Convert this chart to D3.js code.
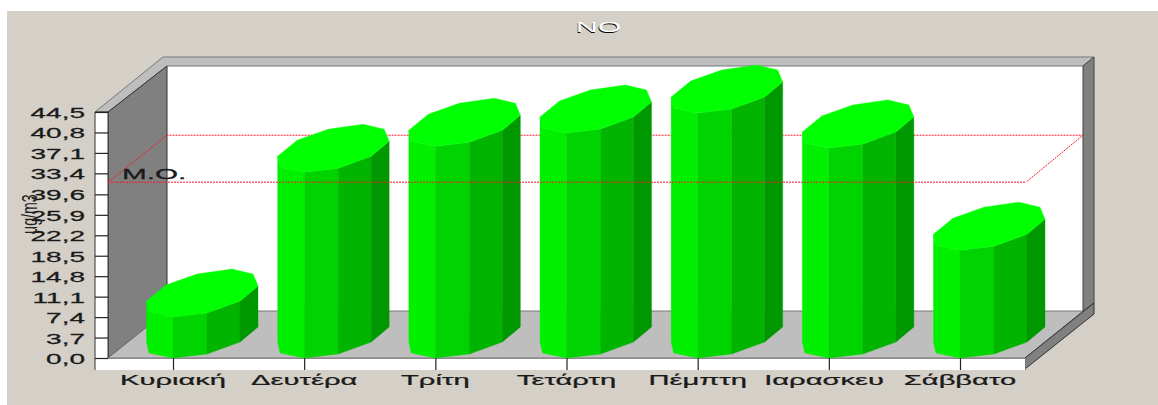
<!DOCTYPE html>
<html><head><meta charset="utf-8">
<script src="https://cdn.jsdelivr.net/npm/d3@7"></script>
<style>html,body{margin:0;padding:0;background:#fff;overflow:hidden}svg{display:block}text{font-family:"Liberation Sans",Arial,sans-serif}</style>
</head><body><svg id="c" width="1158" height="405"></svg>
<script>
const categories=["Κυριακή","Δευτέρα","Τρίτη","Τετάρτη","Πέμπτη","Ιαρασκευ","Σάββατο"];
const values=[7.4,33.6,38.3,40.7,44.3,38.0,19.5];
const tickLabels=["0,0","3,7","7,4","11,1","14,8","18,5","22,2","25,9","39,6","33,4","37,1","40,8","44,5"];
const tickValues=[0,3.7,7.4,11.1,14.8,18.5,22.2,25.9,29.6,33.4,37.1,40.8,44.5];
const mean=31.8, title="NO", yTitle="μg/m3", meanLabel="Μ.Ο.";

const svg=d3.select("#c");
const y=d3.scaleLinear().domain([0,44.5]).range([358,112]);
const x=d3.scalePoint().domain(categories).range([173,960]);
const depth={dx:59,dy:-47}, left=108, right=1025;
const pts=p=>p.map(d=>d.join(",")).join(" ");
const poly=(p,fill,stroke)=>svg.append("polygon").attr("points",pts(p)).attr("fill",fill).attr("stroke",stroke||"none");
const label=(tx,ty,sx,anchor,str)=>svg.append("text").attr("transform",`translate(${tx},${ty}) scale(${sx},1)`)
  .attr("text-anchor",anchor).attr("font-size",14).attr("fill","#1a1a1a").attr("stroke","#1a1a1a").attr("stroke-width",.25).text(str);

svg.append("rect").attr("x",7).attr("y",11).attr("width",1151).attr("height",394).attr("fill","#d4d0c8");
poly([[left+depth.dx,y(44.5)+depth.dy],[right+depth.dx-1,y(44.5)+depth.dy],[right+depth.dx-1,358+depth.dy],[left+depth.dx,358+depth.dy]],"#fff");
poly([[95,112],[163,57],[1094,57],[1083,66],[167,66],[108,112]],"#bebebe","#777");
poly([[108,112],[167,66],[167,311],[108,358]],"#808080","#333");
poly([[1083,66],[1094,57],[1094,303],[1083,311]],"#808080","#444");
poly([[108,358],[167,311],[1083,311],[1025,358]],"#bebebe","#777");
poly([[1025,358],[1094,303],[1094,314],[1025,369]],"#808080","#333");
svg.append("rect").attr("x",95).attr("y",358).attr("width",930).attr("height",12).attr("fill","#fff");
svg.append("line").attr("x1",108).attr("x2",1025).attr("y1",358.5).attr("y2",358.5).attr("stroke","#8a8a8a");
svg.append("rect").attr("x",95).attr("y",112).attr("width",13).attr("height",246).attr("fill","#fff");
svg.append("path").attr("d","M95,370V112H108V358").attr("fill","none").attr("stroke","#333");
svg.append("line").attr("x1",1025.5).attr("x2",1025.5).attr("y1",358).attr("y2",370).attr("stroke","#777");

// y axis
const gy=svg.append("g").attr("transform","translate(108,0)").call(d3.axisLeft(y).tickValues(tickValues).tickSize(13).tickFormat(""));
gy.select(".domain").remove();
gy.selectAll("line").attr("stroke","#222").attr("stroke-width",1.2);
tickValues.forEach((v,i)=>label(85,y(v)+6,2,"end",tickLabels[i]));
svg.append("text").attr("transform","translate(37,234) rotate(-90) scale(1.05,1.65)").attr("font-size",13.5).attr("fill","#222").text(yTitle);

// x axis
const gx=svg.append("g").attr("transform","translate(0,358)").call(d3.axisBottom(x).tickSize(12).tickFormat(""));
gx.select(".domain").remove();
gx.selectAll("line").attr("stroke","#222").attr("stroke-width",1.2);
categories.forEach((c,i)=>label(i===5?824:x(c),385,2.08,"middle",c));

// mean plane: back part behind the bars
const my=y(mean), dash="2 1";
svg.append("path").attr("d",`M${left},${my}L${left+depth.dx},${my+depth.dy}H${1083}L${right+1},${my}`)
  .attr("fill","none").attr("stroke","#f81828").attr("stroke-width",1).attr("stroke-dasharray",dash);
label(122,my-3,2.12,"start",meanLabel);

// octagonal prisms: offsets from the front vertex
const topProfile=[[-26.5,-16],[-7,-32],[24,-43],[59,-48],[80,-43],[85,-31],[67,-16],[34,-4],[0,0],[-24,-5]];
const faces=[{p:[-26.5,-24,0],c:"#00f000"},{p:[0,34],c:"#00d400"},{p:[34,67],c:"#00b400"},{p:[67,85],c:"#009800"}];
const edge={"-26.5":-16,"-24":-5,"0":0,"34":-4,"67":-16,"85":-31};
values.forEach((v,i)=>{
  const ty=y(v), by=y(0);
  const g=svg.append("g").attr("transform",`translate(${x(categories[i])},0)`);
  faces.forEach(f=>{
    const up=f.p.map(a=>[a,ty+edge[a]]), down=f.p.slice().reverse().map(a=>[a,by+edge[a]]);
    g.append("polygon").attr("points",pts(up.concat(down))).attr("fill",f.c).attr("stroke",f.c).attr("stroke-width",.4);
  });
  g.append("polygon").attr("points",pts(topProfile.map(d=>[d[0],ty+d[1]]))).attr("fill","#00ff00").attr("stroke","#00ff00").attr("stroke-width",.4);
});

// mean plane: front edge over the bars
svg.append("line").attr("x1",left).attr("x2",right+1).attr("y1",my).attr("y2",my)
  .attr("stroke","#f81828").attr("stroke-width",1).attr("stroke-dasharray",dash);

// title with raised effect
const t=(dx,dy,col)=>svg.append("text").attr("transform",`translate(${598.5+dx},${32+dy}) scale(1.95,1)`).attr("text-anchor","middle").attr("font-size",15.5).attr("fill",col).text(title);
t(-.6,.7,"#000"); t(0,0,"#fff");
</script></body></html>
